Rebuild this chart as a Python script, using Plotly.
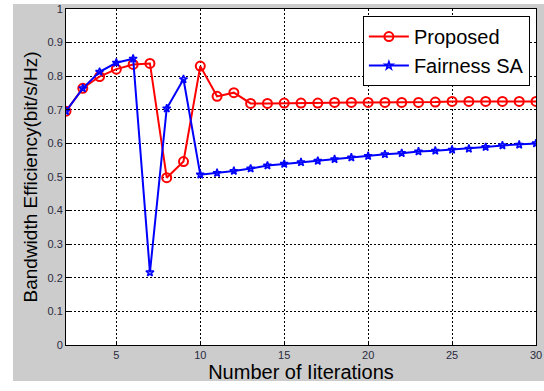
import plotly.graph_objects as go

iterations = list(range(2, 31))
proposed = [0.696, 0.764, 0.799, 0.821, 0.835, 0.838, 0.498, 0.546, 0.830, 0.740,
            0.751, 0.719, 0.719, 0.720, 0.720, 0.720, 0.722, 0.722, 0.722, 0.722,
            0.722, 0.722, 0.723, 0.725, 0.725, 0.725, 0.725, 0.725, 0.725]
fairness_sa = [0.696, 0.764, 0.813, 0.840, 0.852, 0.216, 0.704, 0.791, 0.507, 0.512,
               0.518, 0.525, 0.534, 0.539, 0.544, 0.548, 0.553, 0.558, 0.5625, 0.5675,
               0.571, 0.576, 0.578, 0.581, 0.584, 0.589, 0.594, 0.596, 0.600]
x_ticks = [5, 10, 15, 20, 25, 30]
y_ticks = [0, 0.1, 0.2, 0.3, 0.4, 0.5, 0.6, 0.7, 0.8, 0.9, 1]
y_tick_text = ["0", "0.1", "0.2", "0.3", "0.4", "0.5", "0.6", "0.7", "0.8", "0.9", "1"]

FONT = "Liberation Sans, Arial"

fig = go.Figure()
fig.add_trace(go.Scatter(
    x=iterations, y=proposed, name="Proposed", mode="lines+markers",
    line=dict(color="#ff0000", width=2),
    marker=dict(symbol="circle-open", size=9, color="#ff0000", line=dict(width=2)),
))
fig.add_trace(go.Scatter(
    x=iterations, y=fairness_sa, name="Fairness SA", mode="lines+markers",
    line=dict(color="#0000ff", width=2),
    marker=dict(symbol="star-open", size=6, color="#0000ff", line=dict(width=1.5)),
))

grid = dict(showgrid=True, gridcolor="black", gridwidth=1, griddash="2px,2px",
            showline=True, linecolor="black", linewidth=1, mirror=True,
            ticks="inside", ticklen=4, tickcolor="black", zeroline=False, automargin=False,
            tickfont=dict(family=FONT, size=11, color="#2a2a40"))

fig.update_xaxes(range=[2, 30], tickvals=x_ticks, **grid,
                 title=dict(text="Number of Iiterations", standoff=2,
                            font=dict(family=FONT, size=20, color="black")))
fig.update_yaxes(range=[0, 1], tickvals=y_ticks, ticktext=y_tick_text, **grid,
                 title=dict(text="Bandwidth Efficiency(bit/s/Hz)", standoff=4,
                            font=dict(family=FONT, size=19, color="black")))

fig.add_shape(type="rect", xref="paper", yref="paper", x0=-0.1128, x1=1.02, y0=-0.107, y1=1.015,
              fillcolor="#cccccc", line=dict(width=0), layer="below")
fig.add_shape(type="rect", xref="paper", yref="paper", x0=0, x1=1, y0=0, y1=1,
              fillcolor="white", line=dict(width=0), layer="below")

fig.update_layout(
    width=544, height=391,
    margin=dict(l=66, r=8, t=9, b=46),
    paper_bgcolor="white", plot_bgcolor="white",
    showlegend=True,
    legend=dict(x=0.987, y=0.979, xanchor="right", yanchor="top",
                bgcolor="white", bordercolor="black", borderwidth=1,
                font=dict(family=FONT, size=20, color="black"),
                tracegroupgap=0, itemwidth=40),
)

fig.write_html("out.html", config={"displayModeBar": False},
               post_script="document.body.style.margin='0';")
